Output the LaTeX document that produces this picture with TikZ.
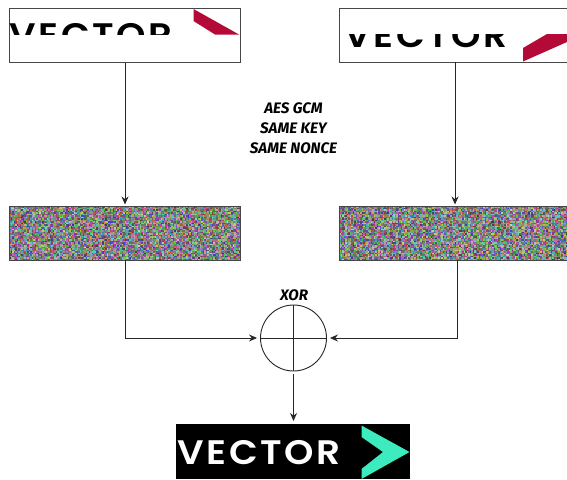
\documentclass[tikz,border=0pt]{standalone}
\usepackage{fontspec}
\setmainfont{Fira Sans}
\newfontfamily\logofont[LetterSpace=8,FakeStretch=1.1]{Poppins SemiBold}
\usetikzlibrary{arrows.meta}
\definecolor{vred}{RGB}{180,10,55}
\definecolor{vgreen}{RGB}{60,235,190}
\definecolor{edge}{RGB}{70,70,70}
\makeatletter
\newcommand\noisecell[5]{%
  \pgfsys@color@rgb@fill{#3}{#4}{#5}%
  \pgfsys@rect{#1pt}{#2pt}{1.5pt}{1.5pt}%
  \pgfsys@fill}
\newcommand\noiseopen{\pgfsys@beginscope}
\newcommand\noiseclose{\pgfsys@endscope}
\makeatother
\tikzset{
  box/.style={draw=edge,line width=1pt,rectangle,inner sep=0pt,minimum height=54pt},
  link/.style={draw=black!85,line width=0.9pt,-{Stealth[length=8pt,width=7pt]}},
  caption/.style={font=\fontsize{15.2}{20}\selectfont\bfseries\itshape,align=center,text=black,inner sep=0pt},
  logo/.style={font=\logofont\fontsize{34}{34}\selectfont,inner sep=0pt,anchor=base west}
}
\begin{document}
\begin{tikzpicture}[x=1pt,y=-1pt]
\useasboundingbox (0,0) rectangle (567,479);
\pgfmathsetseed{4242}
% left plain box
\node[box,minimum width=231pt,anchor=north west] (pl) at (9,8) {};
\begin{scope}
\clip (9.5,8.5) rectangle (240,34);
\node[logo,text=black] (pltext) at (9,47) {VECTOR};
\end{scope}
\fill[vred] (193.5,9) -- (239,34.5) -- (215,34.5) -- (193.5,21) -- cycle;
% right plain box
\node[box,minimum width=240pt,anchor=north west] (pr) at (339,8) {};
\begin{scope}
\clip (339.5,34) rectangle (567,61.5);
\node[logo,text=black] (prtext) at (344,47) {VECTOR};
\end{scope}
\fill[vred] (523,61.5) -- (523,48) -- (547,34) -- (567,34) -- (567,42) -- cycle;
% noise fill
\noiseopen
\foreach \ox/\nn in {9/153,339/151}{
  \foreach \ix in {0,...,\nn}{
    \pgfmathsetmacro\xx{\ox+1.5*\ix}
    \foreach \iy in {0,...,35}{
      \pgfmathsetmacro\yy{-206-1.5*\iy-1.5}
      \pgfmathsetmacro\nr{0.2+0.62*rnd}
      \pgfmathsetmacro\ng{0.2+0.62*rnd}
      \pgfmathsetmacro\nb{0.2+0.62*rnd}
      \noisecell{\xx}{\yy}{\nr}{\ng}{\nb}
    }
  }
}
\noiseclose
\node[box,minimum width=231pt,anchor=north west] (cl) at (9,206) {};
\node[box,minimum width=236pt,anchor=north west] (cr) at (339,206) {};
% XOR
\node[circle,draw=black!85,line width=0.9pt,minimum size=66pt,inner sep=0pt] (xor) at (293.5,338) {};
\draw[black!85,line width=0.9pt] (xor.north) -- (xor.south) (xor.west) -- (xor.east);
% result
\node[fill=black,rectangle,minimum width=234pt,minimum height=55pt,inner sep=0pt,anchor=north west] (res) at (176,424) {};
\node[logo,text=white] (restext) at (177,464.5) {VECTOR};
\fill[vgreen] (361.5,425.5) -- (409.5,452) -- (361.5,479) -- (361.5,469) -- (383,452) -- (361.5,437) -- cycle;
% labels
\node[caption] (lab) at (293.5,128) {AES GCM\\SAME KEY\\SAME NONCE};
\node[caption] (xl) at (294,295) {XOR};
% connectors
\draw[link,shorten >=1.5pt] (pl.south) -- (cl.north);
\draw[link,shorten >=1.5pt] (455,62) coordinate (pra) -- (455,206) coordinate (crb);
\draw[link,shorten >=3pt] (125,260) coordinate (cla) |- (xor.west);
\draw[link,shorten >=3pt] (457,260) coordinate (cra) |- (xor.east);
\draw[link,shorten <=3pt,shorten >=3pt] (xor.south) -- (res.north -| xor.south);
\end{tikzpicture}
\end{document}
